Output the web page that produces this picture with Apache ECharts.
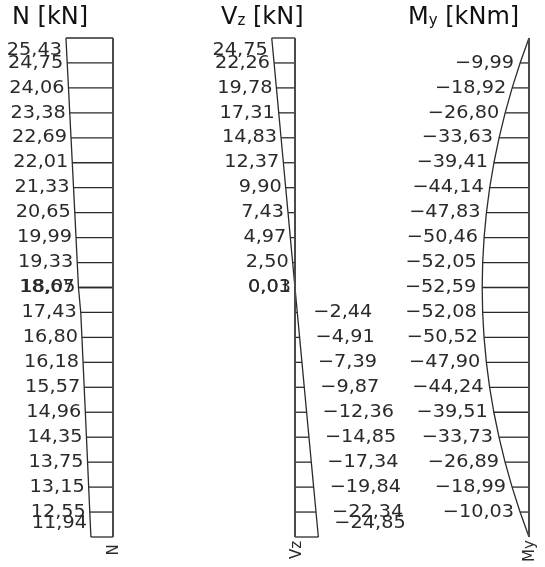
<!DOCTYPE html>
<html>
<head>
<meta charset="utf-8">
<script src="https://cdn.jsdelivr.net/npm/echarts@6/dist/echarts.min.js"></script>
<style>
html, body { margin: 0; padding: 0; background: #ffffff; }
#chart { width: 545px; height: 567px; }
</style>
</head>
<body>
<div id="chart"></div>
<script>
// Internal forces along the column, 21 stations from top (0) to bottom (20).
const stationsUpper = [0, 1, 2, 3, 4, 5, 6, 7, 8, 9, 10];
const stationsLower = [10, 11, 12, 13, 14, 15, 16, 17, 18, 19, 20];
const stationsAll = [0, 1, 2, 3, 4, 5, 6, 7, 8, 9, 10, 11, 12, 13, 14, 15, 16, 17, 18, 19, 20];

// Normal force N [kN] (jump at mid-height)
const nUpper = [25.43, 24.75, 24.06, 23.38, 22.69, 22.01, 21.33, 20.65, 19.99, 19.33, 18.67];
const nLower = [18.05, 17.43, 16.80, 16.18, 15.57, 14.96, 14.35, 13.75, 13.15, 12.55, 11.94];

// Shear force Vz [kN]
const vzUpper = [24.75, 22.26, 19.78, 17.31, 14.83, 12.37, 9.90, 7.43, 4.97, 2.50, 0.03];
const vzLower = [0.01, -2.44, -4.91, -7.39, -9.87, -12.36, -14.85, -17.34, -19.84, -22.34, -24.85];

// Bending moment My [kNm]
const myValues = [0, -9.99, -18.92, -26.80, -33.63, -39.41, -44.14, -47.83, -50.46, -52.05, -52.59,
                  -52.08, -50.52, -47.90, -44.24, -39.51, -33.73, -26.89, -18.99, -10.03, 0];

const FONT = '"DejaVu Sans", Verdana, sans-serif';
const LINE = '#2b2b2b';
const TEXT = '#2a2a2a';

function pairs(values, stations) {
  return values.map((v, i) => [v, stations[i]]);
}

const nPts = pairs(nUpper, stationsUpper).concat(pairs(nLower, stationsLower));
const vzPts = pairs(vzUpper, stationsUpper).concat(pairs(vzLower, stationsLower));
const myPts = pairs(myValues, stationsAll);

function fmt(v) {
  const s = Math.abs(v).toFixed(2).replace('.', ',');
  return v < 0 ? '\u2212' + s : s;
}

// label placement: right of the curve for negative shear, otherwise left of it
function placeLeft(gap) {
  return function () { return { dx: -gap, align: 'right' }; };
}
function placeShear(v) {
  return v < 0 ? { dx: 16, align: 'left' } : { dx: -4, align: 'right' };
}

function hatchSeries(idx, points, place) {
  return {
    type: 'custom',
    xAxisIndex: idx,
    yAxisIndex: idx,
    clip: false,
    silent: true,
    data: points,
    renderItem: function (params, api) {
      const v = api.value(0);
      const s = api.value(1);
      const p0 = api.coord([0, s]);
      const p1 = api.coord([v, s]);
      const children = [{
        type: 'line',
        shape: { x1: p0[0], y1: p0[1], x2: p1[0], y2: p1[1] },
        style: { stroke: LINE, lineWidth: 1.3 }
      }];
      if (v !== 0) {
        const dy = s === 0 ? 12 : (s === 20 ? -14 : 0);
        const pl = place(v);
        children.push({
          type: 'text',
          x: p1[0] + pl.dx,
          y: p1[1] + dy,
          scaleX: 1.07,
          style: {
            text: fmt(v),
            align: pl.align,
            verticalAlign: 'middle',
            fontFamily: FONT,
            fontSize: 18,
            fill: TEXT
          }
        });
      }
      return { type: 'group', children: children };
    }
  };
}

function outline(idx, points) {
  return {
    type: 'line',
    xAxisIndex: idx,
    yAxisIndex: idx,
    data: points,
    symbol: 'none',
    silent: true,
    clip: false,
    lineStyle: { color: LINE, width: 1.3 }
  };
}

function baseline(idx) {
  return {
    type: 'line',
    xAxisIndex: idx,
    yAxisIndex: idx,
    data: [[0, 0], [0, 20]],
    symbol: 'none',
    silent: true,
    clip: false,
    lineStyle: { color: '#4a4a4a', width: 2 }
  };
}

const hiddenY = { type: 'value', min: 0, max: 20, inverse: true, show: false };

const chart = echarts.init(document.getElementById('chart'), null, { renderer: 'canvas' });
chart.setOption({
  animation: false,
  backgroundColor: '#ffffff',
  grid: [
    { left: 57.5, width: 55.5, top: 38, height: 499 },
    { left: 266.8, width: 56.4, top: 38, height: 499 },
    { left: 475.6, width: 53.4, top: 38, height: 499 }
  ],
  xAxis: [
    { type: 'value', gridIndex: 0, min: 0, max: 30, inverse: true, show: false },
    { type: 'value', gridIndex: 1, min: -30, max: 30, inverse: true, show: false },
    { type: 'value', gridIndex: 2, min: -60, max: 0, show: false }
  ],
  yAxis: [
    Object.assign({ gridIndex: 0 }, hiddenY),
    Object.assign({ gridIndex: 1 }, hiddenY),
    Object.assign({ gridIndex: 2 }, hiddenY)
  ],
  series: [
    hatchSeries(0, nPts, placeLeft(4)),
    outline(0, nPts),
    baseline(0),
    hatchSeries(1, vzPts, placeShear),
    outline(1, vzPts),
    baseline(1),
    hatchSeries(2, myPts, placeLeft(6)),
    outline(2, myPts),
    baseline(2)
  ],
  graphic: [
    {
      type: 'text', left: 12, top: 6,
      style: { text: 'N [kN]', fontFamily: FONT, fontSize: 24, fill: '#111' }
    },
    {
      type: 'text', left: 221, top: 6,
      style: {
        text: 'V{s|z} [kN]', fontFamily: FONT, fontSize: 24, fill: '#111',
        rich: { s: { fontFamily: FONT, fontSize: 15, fill: '#111', padding: [6, 0, 0, 0] } }
      }
    },
    {
      type: 'text', left: 408, top: 6,
      style: {
        text: 'M{s|y} [kNm]', fontFamily: FONT, fontSize: 24, fill: '#111',
        rich: { s: { fontFamily: FONT, fontSize: 15, fill: '#111', padding: [6, 0, 0, 0] } }
      }
    },
    {
      type: 'text', x: 114, y: 550, rotation: Math.PI / 2,
      style: { text: 'N', align: 'center', verticalAlign: 'middle', fontFamily: FONT, fontSize: 15, fill: TEXT }
    },
    {
      type: 'text', x: 297, y: 550, rotation: Math.PI / 2,
      style: { text: 'Vz', align: 'center', verticalAlign: 'middle', fontFamily: FONT, fontSize: 15, fill: TEXT }
    },
    {
      type: 'text', x: 530, y: 551, rotation: Math.PI / 2,
      style: { text: 'My', align: 'center', verticalAlign: 'middle', fontFamily: FONT, fontSize: 15, fill: TEXT }
    }
  ]
});
</script>
</body>
</html>
